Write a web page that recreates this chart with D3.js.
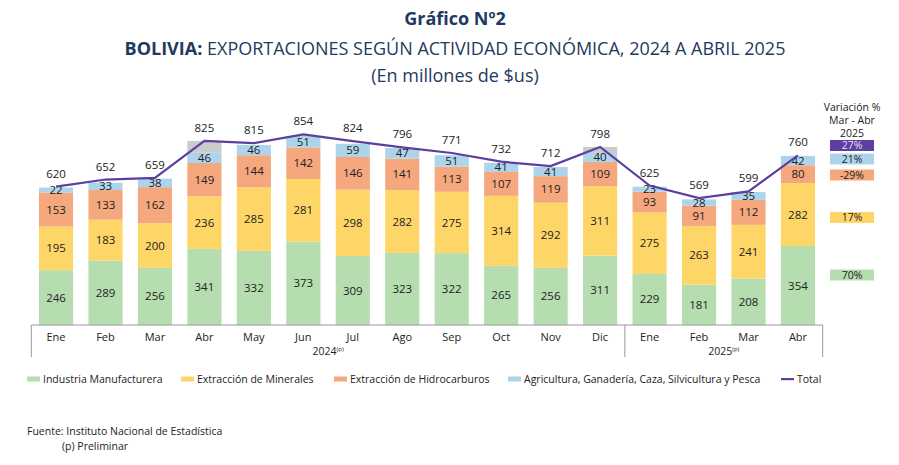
<!DOCTYPE html>
<html>
<head>
<meta charset="utf-8">
<script src="https://cdn.jsdelivr.net/npm/d3@7"></script>
<style>
  body { margin: 0; background: #fff; }
  svg { display: block; font-family: "Open Sans", sans-serif; }
</style>
</head>
<body>
<div id="chart"></div>
<script>
const months = ["Ene","Feb","Mar","Abr","May","Jun","Jul","Ago","Sep","Oct","Nov","Dic","Ene","Feb","Mar","Abr"]
const manufactura = [246,289,256,341,332,373,309,323,322,265,256,311,229,181,208,354]
const minerales = [195,183,200,236,285,281,298,282,275,314,292,311,275,263,241,282]
const hidrocarburos = [153,133,162,149,144,142,146,141,113,107,119,109,93,91,112,80]
const agricultura = [22,33,38,46,46,51,59,47,51,41,41,40,23,28,35,42]
const otros = [0,0,0,53,0,0,0,0,0,0,0,27,0,0,0,0]
const total = [620,652,659,825,815,854,824,796,771,732,712,798,625,569,599,760]
const years = [{ label: "2024", from: 0, to: 11 }, { label: "2025", from: 12, to: 15 }]
const variacion = ["27%","21%","-29%","17%","70%"]

const colors = {
  manufactura: "#b5ddb0",
  minerales: "#fed667",
  hidrocarburos: "#f5a77e",
  agricultura: "#aed4ec",
  otros: "#cbcbcb",
  total: "#5d3f9f"
}
const navy = "#1f3a60"
const textColor = "#222"
const axisColor = "#9a9a9a"

const width = 899, height = 465
const svg = d3.select("#chart").append("svg")
  .attr("width", width).attr("height", height)

// titles
svg.append("text").attr("x", 455).attr("y", 25)
  .attr("text-anchor", "middle").attr("font-size", 18).attr("font-weight", 700)
  .attr("fill", navy).text("Gráfico Nº2")
const t2 = svg.append("text").attr("x", 455).attr("y", 55)
  .attr("text-anchor", "middle").attr("font-size", 18).attr("fill", navy)
t2.append("tspan").attr("font-weight", 700).text("BOLIVIA: ")
t2.append("tspan").text("EXPORTACIONES SEGÚN ACTIVIDAD ECONÓMICA, 2024 A ABRIL 2025")
svg.append("text").attr("x", 455).attr("y", 82)
  .attr("text-anchor", "middle").attr("font-size", 18).attr("fill", navy)
  .text("(En millones de $us)")

// scales
const x = d3.scaleBand()
  .domain(d3.range(months.length))
  .range([31.3, 822.7])
  .paddingInner(0.31)
  .paddingOuter(0.155)

const y = d3.scaleLinear()
  .domain([0, 900])
  .range([325, 124.2])

const keys = ["manufactura","minerales","hidrocarburos","agricultura","otros"]
const rows = months.map((m, i) => ({
  i,
  manufactura: manufactura[i],
  minerales: minerales[i],
  hidrocarburos: hidrocarburos[i],
  agricultura: agricultura[i],
  otros: otros[i]
}))
const series = d3.stack().keys(keys)(rows)

const layers = svg.append("g").selectAll("g")
  .data(series).join("g")
    .attr("fill", d => colors[d.key])

layers.selectAll("rect")
  .data(d => d).join("rect")
    .attr("x", d => x(d.data.i))
    .attr("width", x.bandwidth())
    .attr("y", d => y(d[1]))
    .attr("height", d => y(d[0]) - y(d[1]))

// segment labels
series.filter(s => s.key !== "otros").forEach(s => {
  svg.append("g").selectAll("text")
    .data(s).join("text")
      .attr("x", d => x(d.data.i) + x.bandwidth() / 2)
      .attr("y", d => (y(d[0]) + y(d[1])) / 2)
      .attr("dy", "0.35em")
      .attr("text-anchor", "middle")
      .attr("font-size", 11.5)
      .attr("fill", textColor)
      .text(d => d.data[s.key])
})

// total line
const line = d3.line()
  .x((d, i) => x(i) + x.bandwidth() / 2)
  .y(d => y(d))
svg.append("path")
  .attr("d", line(total))
  .attr("fill", "none")
  .attr("stroke", colors.total)
  .attr("stroke-width", 2.2)

svg.append("g").selectAll("text")
  .data(total).join("text")
    .attr("x", (d, i) => x(i) + x.bandwidth() / 2)
    .attr("y", d => y(d) - 9)
    .attr("text-anchor", "middle")
    .attr("font-size", 11.5)
    .attr("fill", textColor)
    .text(d => d)

// x axis
const axis = svg.append("g")
const x0 = x.range()[0], x1 = x.range()[1]
axis.append("line").attr("x1", x0).attr("x2", x1).attr("y1", 325).attr("y2", 325)
  .attr("stroke", axisColor)
years.forEach((yr, k) => {
  const left = x(yr.from) - x.step() * x.paddingInner() / 2
  const right = x(yr.to) + x.bandwidth() + x.step() * x.paddingInner() / 2
  if (k === 0) axis.append("line").attr("x1", x0).attr("x2", x0).attr("y1", 325).attr("y2", 357).attr("stroke", axisColor)
  axis.append("line").attr("x1", right).attr("x2", right).attr("y1", 325).attr("y2", 357).attr("stroke", axisColor)
  const lbl = axis.append("text")
    .attr("x", (left + right) / 2).attr("y", 355)
    .attr("text-anchor", "middle").attr("font-size", 10.5).attr("fill", textColor)
  lbl.append("tspan").text(yr.label)
  lbl.append("tspan").attr("font-size", 6).attr("dy", -4).text("(p)")
})
axis.selectAll("text.month")
  .data(months).join("text")
    .attr("class", "month")
    .attr("x", (d, i) => x(i) + x.bandwidth() / 2)
    .attr("y", 341)
    .attr("text-anchor", "middle")
    .attr("font-size", 11)
    .attr("fill", textColor)
    .text(d => d)

// variation panel
const varHead = ["Variación %", "Mar - Abr", "2025"]
varHead.forEach((t, i) => {
  svg.append("text").attr("x", 852).attr("y", 111 + i * 13)
    .attr("text-anchor", "middle").attr("font-size", 10.5).attr("fill", textColor).text(t)
})
const varColors = [colors.total, colors.agricultura, colors.hidrocarburos, colors.minerales, colors.manufactura]
const varY = [145.5, 159, 175, 217.5, 275]
const varBox = svg.append("g").selectAll("g")
  .data(variacion).join("g")
    .attr("transform", (d, i) => `translate(852, ${varY[i]})`)
varBox.append("rect")
  .attr("x", -22).attr("y", -5.5).attr("width", 44).attr("height", 11)
  .attr("fill", (d, i) => varColors[i])
varBox.append("text")
  .attr("dy", "0.36em").attr("text-anchor", "middle").attr("font-size", 10.5)
  .attr("fill", (d, i) => i === 0 ? "#e8defa" : textColor)
  .text(d => d)

// legend
const legendItems = [
  { label: "Industria Manufacturera", color: colors.manufactura, x: 27 },
  { label: "Extracción de Minerales", color: colors.minerales, x: 181 },
  { label: "Extracción de Hidrocarburos", color: colors.hidrocarburos, x: 334 },
  { label: "Agricultura, Ganadería, Caza, Silvicultura y Pesca", color: colors.agricultura, x: 508 },
  { label: "Total", color: colors.total, x: 781, line: true }
]
const legend = svg.append("g").selectAll("g")
  .data(legendItems).join("g")
    .attr("transform", d => `translate(${d.x}, 379)`)
legend.append("rect")
  .attr("x", 0).attr("y", d => d.line ? -1 : -2.5)
  .attr("width", 13).attr("height", d => d.line ? 2.2 : 5)
  .attr("fill", d => d.color)
legend.append("text")
  .attr("x", 16).attr("dy", "0.35em").attr("font-size", 10.5).attr("fill", textColor)
  .text(d => d.label)

// footnote
svg.append("text").attr("x", 27).attr("y", 435).attr("font-size", 10.5).attr("fill", textColor)
  .text("Fuente: Instituto Nacional de Estadística")
svg.append("text").attr("x", 62).attr("y", 450).attr("font-size", 10.5).attr("fill", textColor)
  .text("(p) Preliminar")
</script>
</body>
</html>
